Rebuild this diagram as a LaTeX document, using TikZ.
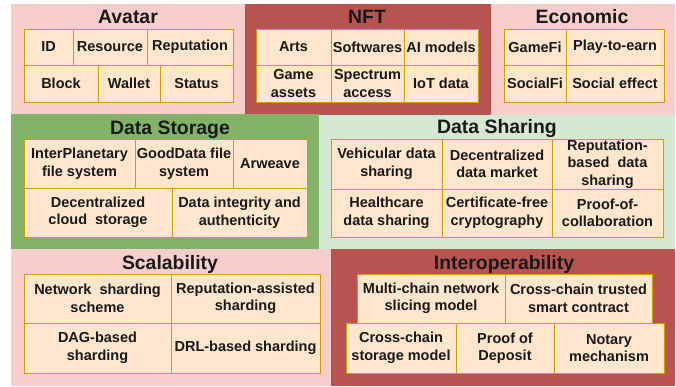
\documentclass[tikz,border=0pt]{standalone}
\usepackage{fontspec}
\setmainfont{Liberation Sans}
\definecolor{pinkbg}{HTML}{F8CECC}
\definecolor{redbg}{HTML}{B85450}
\definecolor{greenbg}{HTML}{82B366}
\definecolor{lgreenbg}{HTML}{D5E8D4}
\definecolor{cellfill}{HTML}{FFE6CC}
\definecolor{celldraw}{HTML}{D79B00}
\tikzset{
  cell/.style={draw=celldraw, fill=cellfill, line width=1pt, inner sep=0pt, align=center,
    font=\bfseries\fontsize{14.5}{17.5}\selectfont, text=black!90},
  paneltitle/.style={anchor=base, inner sep=0pt, font=\bfseries\fontsize{19.4}{22}\selectfont, text=black!90}
}
\newcommand\cellbox[6]{%
  \pgfmathsetmacro\cw{#4-#2}\pgfmathsetmacro\ch{#5-#3}%
  \pgfmathsetmacro\cx{(#2+#4)/2}\pgfmathsetmacro\cy{(#3+#5)/2}%
  \node[cell, minimum width=\cw pt, minimum height=\ch pt] (#1) at (\cx,\cy) {#6};}
\begin{document}
\begin{tikzpicture}[x=1pt,y=-1pt]
\useasboundingbox (0,0) rectangle (676,386);
\fill[white] (0,0) rectangle (676,386);
% panels
\fill[pinkbg] (11,4) rectangle (245,114);
\fill[redbg] (245,4) rectangle (491,115);
\fill[pinkbg] (491,4) rectangle (675,115);
\fill[greenbg] (11,114) rectangle (319,249);
\fill[lgreenbg] (319,115) rectangle (675,249);
\fill[pinkbg] (11,249) rectangle (331,386);
\fill[redbg] (331,249) rectangle (675,386);
% titles
\node[paneltitle] (tav) at (128,23) {Avatar};
\node[paneltitle] (tnft) at (367,23) {NFT};
\node[paneltitle] (teco) at (582,23) {Economic};
\node[paneltitle] (tds) at (170,134) {Data Storage};
\node[paneltitle] (tdsh) at (497,133) {Data Sharing};
\node[paneltitle] (tsc) at (170,269) {Scalability};
\node[paneltitle] (tio) at (504,269) {Interoperability};
% Avatar
\cellbox{a1}{24}{29}{73}{65}{ID}
\cellbox{a2}{73}{29}{147}{65}{Resource}
\cellbox{a3}{147}{29}{233}{65}{Reputation}
\cellbox{a4}{24}{65}{98}{102}{Block}
\cellbox{a5}{98}{65}{160}{102}{Wallet}
\cellbox{a6}{160}{65}{233}{102}{Status}
% NFT
\cellbox{n1}{256}{29}{331}{65}{Arts}
\cellbox{n2}{331}{29}{404}{65}{Softwares}
\cellbox{n3}{404}{29}{478}{65}{AI models}
\cellbox{n4}{256}{65}{331}{102}{Game\\assets}
\cellbox{n5}{331}{65}{404}{102}{Spectrum\\access}
\cellbox{n6}{404}{65}{478}{102}{IoT data}
% Economic
\cellbox{e1}{504}{29}{566}{65}{GameFi}
\cellbox{e2}{566}{29}{664}{65}{Play-to-earn}
\cellbox{e3}{504}{65}{566}{102}{SocialFi}
\cellbox{e4}{566}{65}{664}{102}{Social effect}
% Data Storage
\cellbox{s1}{24}{139}{135}{188}{InterPlanetary\\file system}
\cellbox{s2}{135}{139}{233}{188}{GoodData file\\system}
\cellbox{s3}{233}{139}{307}{188}{Arweave}
\cellbox{s4}{24}{188}{172}{237}{Decentralized\\cloud~~storage}
\cellbox{s5}{172}{188}{307}{237}{Data integrity and\\authenticity}
% Data Sharing
\cellbox{d1}{331}{139}{442}{189}{Vehicular data\\sharing}
\cellbox{d2}{442}{139}{552}{189}{Decentralized\\data market}
\cellbox{d3}{552}{139}{663}{189}{Reputation-\\based~~data\\sharing}
\cellbox{d4}{331}{189}{442}{237}{Healthcare\\data sharing}
\cellbox{d5}{442}{189}{552}{237}{Certificate-free\\cryptography}
\cellbox{d6}{552}{189}{663}{237}{Proof-of-\\collaboration}
% Scalability
\cellbox{c1}{24}{274}{171}{323}{Network~~sharding\\scheme}
\cellbox{c2}{171}{274}{320}{323}{Reputation-assisted\\sharding}
\cellbox{c3}{24}{323}{171}{373}{DAG-based\\sharding}
\cellbox{c4}{171}{323}{320}{373}{DRL-based sharding}
% Interoperability
\cellbox{i1}{357}{274}{505}{323}{Multi-chain network\\slicing model}
\cellbox{i2}{505}{274}{652}{323}{Cross-chain trusted\\smart contract}
\cellbox{i3}{346}{323}{456}{373}{Cross-chain\\storage model}
\cellbox{i4}{456}{323}{554}{373}{Proof of\\Deposit}
\cellbox{i5}{554}{323}{664}{373}{Notary\\mechanism}
\end{tikzpicture}
\end{document}
